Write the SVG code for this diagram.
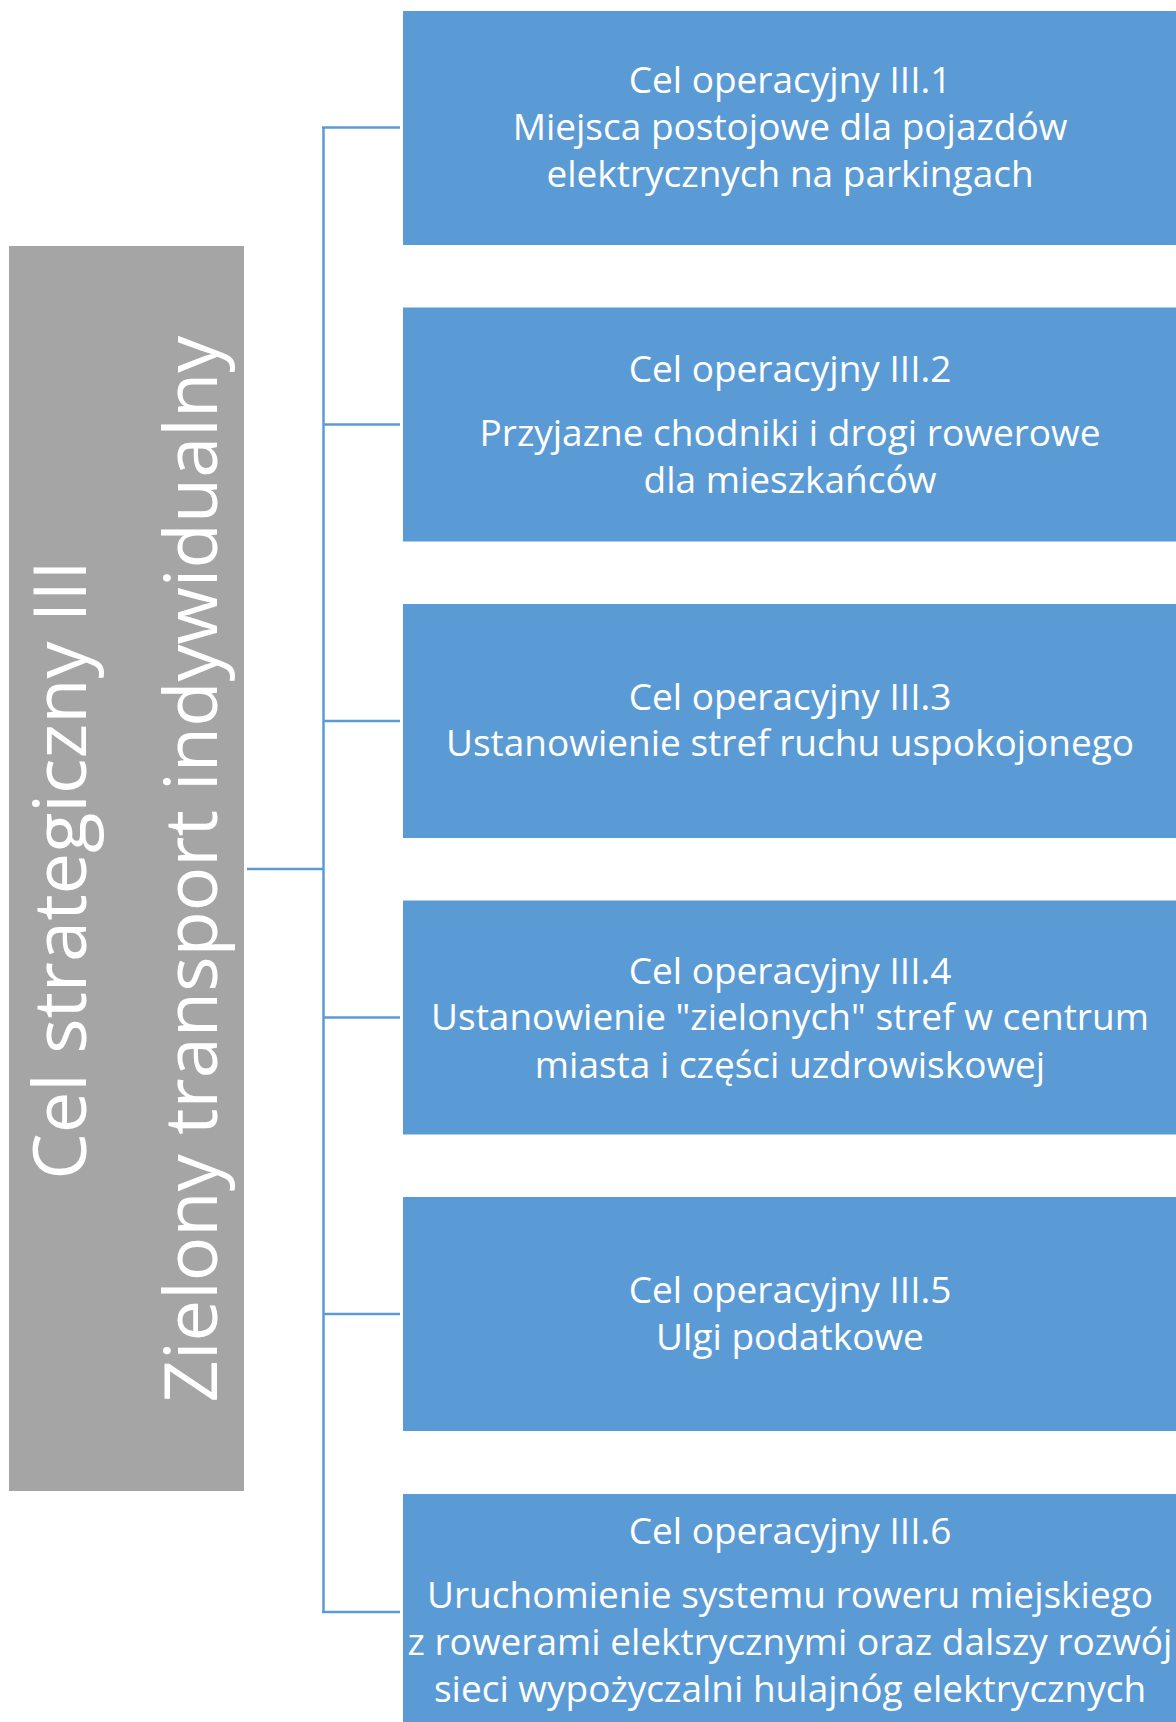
<svg xmlns="http://www.w3.org/2000/svg" width="1176" height="1722" viewBox="0 0 1176 1722">
<style>
.box{fill:#5B9BD5;}
.bt{font-family:"Open Sans","Noto Sans",sans-serif;font-size:37px;fill:#FFFFFF;text-anchor:middle;}
.st{font-family:"Open Sans","Noto Sans",sans-serif;font-size:74px;fill:#FFFFFF;text-anchor:middle;}
.conn{stroke:#5B9BD5;stroke-width:2.5;fill:none;}
</style>
<rect width="1176" height="1722" fill="#FFFFFF"/>
<g id="connectors">
<path class="conn" d="M247 869 H323.5"/>
<path class="conn" d="M323.5 127.5 V1612"/>
<path class="conn" d="M322 127.5 H400"/>
<path class="conn" d="M323.5 424.5 H400"/>
<path class="conn" d="M323.5 721 H400"/>
<path class="conn" d="M323.5 1017.5 H400"/>
<path class="conn" d="M323.5 1314 H400"/>
<path class="conn" d="M322 1612 H400"/>
</g>
<g id="strategic">
<rect x="9" y="246" width="235" height="1245" fill="#A5A5A5"/>
<text class="st" transform="translate(86,870) rotate(-90)">Cel strategiczny III</text>
<text class="st" transform="translate(216.5,869) rotate(-90)">Zielony transport indywidualny</text>
</g>
<g id="op1">
<rect class="box" x="403" y="11" width="773" height="234"/>
<text class="bt" x="790" y="93">Cel operacyjny III.1</text>
<text class="bt" x="790" y="140">Miejsca postojowe dla pojazdów</text>
<text class="bt" x="790" y="187">elektrycznych na parkingach</text>
</g>
<g id="op2">
<rect class="box" x="403" y="307.5" width="773" height="234"/>
<text class="bt" x="790" y="381.5">Cel operacyjny III.2</text>
<text class="bt" x="790" y="445.5">Przyjazne chodniki i drogi rowerowe</text>
<text class="bt" x="790" y="492.5">dla mieszkańców</text>
</g>
<g id="op3">
<rect class="box" x="403" y="604" width="773" height="234"/>
<text class="bt" x="790" y="710">Cel operacyjny III.3</text>
<text class="bt" x="790" y="756">Ustanowienie stref ruchu uspokojonego</text>
</g>
<g id="op4">
<rect class="box" x="403" y="900.5" width="773" height="234"/>
<text class="bt" x="790" y="983.5">Cel operacyjny III.4</text>
<text class="bt" x="790" y="1030">Ustanowienie "zielonych" stref w centrum</text>
<text class="bt" x="790" y="1077.5">miasta i części uzdrowiskowej</text>
</g>
<g id="op5">
<rect class="box" x="403" y="1197" width="773" height="234"/>
<text class="bt" x="790" y="1302.5">Cel operacyjny III.5</text>
<text class="bt" x="790" y="1350">Ulgi podatkowe</text>
</g>
<g id="op6">
<rect class="box" x="403" y="1494" width="773" height="234"/>
<text class="bt" x="790" y="1544">Cel operacyjny III.6</text>
<text class="bt" x="790" y="1608">Uruchomienie systemu roweru miejskiego</text>
<text class="bt" x="790" y="1655">z rowerami elektrycznymi oraz dalszy rozwój</text>
<text class="bt" x="790" y="1701.5">sieci wypożyczalni hulajnóg elektrycznych</text>
</g>
</svg>
